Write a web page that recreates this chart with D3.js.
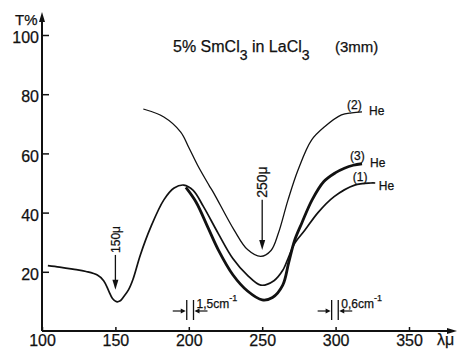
<!DOCTYPE html>
<html>
<head>
<meta charset="utf-8">
<script src="https://cdn.jsdelivr.net/npm/d3@7"></script>
<style>
  body { margin: 0; background: #fff; }
  svg text { font-family: 'Liberation Sans', Arial, sans-serif; fill: #111; stroke: #111; stroke-width: 0.25; }
</style>
</head>
<body>
<div id="chart"></div>
<script>
// wavelength (micron) ticks and transmission ticks
const lambdaTicks = [100, 150, 200, 250, 300, 350];
const tTicks = [20, 40, 60, 80, 100];

// [lambda, T%]
const curve1 = [[104, 22.1], [112, 21.6], [121, 20.9], [130, 20.1], [137.7, 18.9], [142, 17], [145.5, 13.5],
  [148, 11], [150.7, 9.9], [153, 10.1], [155.5, 11.5], [159, 14], [162, 17.5], [167, 25.7], [174, 35],
  [183, 44.3], [190, 48.3], [196.6, 49.3], [203, 47.5], [210, 42], [220, 33], [230, 24.5], [240, 18.8],
  [249, 15.5], [258, 17], [264, 20.5], [268, 25], [272, 29.5], [279, 34], [288, 40], [299, 45.4],
  [313, 49.3], [324, 50], [327, 50]];
const curve2 = [[169, 75], [183, 72.3], [194.5, 67.2], [200, 62], [206, 56], [213.7, 49.3], [217, 46.6],
  [231, 34], [240, 27.5], [249, 25.2], [256, 27.2], [261, 33], [267.6, 44.3], [274.4, 54.4], [283.6, 64.5],
  [292.5, 69], [304, 73], [311, 73.7], [318, 74]];
const curve3 = [[198, 48.5], [205, 43.5], [213, 35], [220, 27.5], [230, 19], [240, 13.5], [250, 10.5],
  [257, 11.3], [264, 15.5], [268, 23], [272, 30.5], [277, 36.5], [284, 44.3], [292, 50.5], [300, 53.5],
  [306, 55], [312, 56], [318, 56.5]];

const curveNames = ['(1)', '(2)', '(3)'];
const gasLabel = 'He';
const peakLabels = ['150μ', '250μ'];
const slitLabels = ['1,5', '0,6'];

const width = 458, height = 349;
const svg = d3.select('#chart').append('svg').attr('width', width).attr('height', height);

const x = d3.scaleLinear().domain([100, 350]).range([42, 409]);
const y = d3.scaleLinear().domain([0, 100]).range([331, 35]);
const ink = '#111';
const font = "'Liberation Sans', Arial, sans-serif";

// axes
const xAxis = svg.append('g')
  .attr('transform', 'translate(0,' + y(0) + ')')
  .call(d3.axisBottom(x).tickValues(lambdaTicks).tickSizeInner(-4).tickSizeOuter(0).tickPadding(4));
xAxis.select('.domain').remove();
xAxis.selectAll('line').attr('stroke', ink).attr('stroke-width', 1.5);
xAxis.selectAll('text').attr('font-size', 16).attr('font-family', font).attr('fill', ink);

const yAxis = svg.append('g')
  .attr('transform', 'translate(' + x(100) + ',0)')
  .call(d3.axisLeft(y).tickValues(tTicks).tickSizeInner(-7).tickSizeOuter(0).tickPadding(3));
yAxis.select('.domain').remove();
yAxis.selectAll('line').attr('stroke', ink).attr('stroke-width', 1.5);
yAxis.selectAll('text').attr('font-size', 16).attr('dy', '0.48em').attr('font-family', font).attr('fill', ink);

// axis lines with arrow heads
svg.append('line').attr('x1', x(100)).attr('x2', x(100)).attr('y1', y(0)).attr('y2', 16)
  .attr('stroke', ink).attr('stroke-width', 2);
svg.append('path').attr('d', `M${x(100)},12 L${x(100) - 3},22 L${x(100) + 3},22 Z`).attr('fill', ink);
svg.append('line').attr('x1', x(100)).attr('x2', 452).attr('y1', y(0)).attr('y2', y(0))
  .attr('stroke', ink).attr('stroke-width', 2);
svg.append('path').attr('d', `M457,${y(0)} L447,${y(0) - 3} L447,${y(0) + 3} Z`).attr('fill', ink);

svg.append('text').attr('x', 15).attr('y', 25).attr('font-size', 15).text('T%');
svg.append('text').attr('x', 437).attr('y', 345).attr('font-size', 16).text('λμ');

// title
const title = svg.append('text').attr('x', 173).attr('y', 52).attr('font-size', 16);
title.append('tspan').text('5% SmCl');
title.append('tspan').attr('dy', 8).attr('font-size', 14).text('3');
title.append('tspan').attr('dy', -8).text(' in LaCl');
title.append('tspan').attr('dy', 8).attr('font-size', 14).text('3');
svg.append('text').attr('x', 335).attr('y', 52).attr('font-size', 15).text('(3mm)');

// curves
const line = d3.line().x(d => x(d[0])).y(d => y(d[1])).curve(d3.curveCatmullRom.alpha(0.5));
svg.append('path').datum(curve2).attr('d', line).attr('fill', 'none').attr('stroke', ink).attr('stroke-width', 1.3);
svg.append('path').datum(curve1).attr('d', line).attr('fill', 'none').attr('stroke', ink).attr('stroke-width', 1.7);
svg.append('path').datum(curve3).attr('d', line).attr('fill', 'none').attr('stroke', ink).attr('stroke-width', 2.8);

// curve labels
const ends = [curve1[curve1.length - 2], curve2[curve2.length - 1], curve3[curve3.length - 1]];
const nameOffsets = [[-18, -2], [-15, -3], [-12, -4]];
const heOffsets = [[8, 7], [7, 3], [8, 3]];
curveNames.forEach((name, i) => {
  const [lx, ly] = [x(ends[i][0]), y(ends[i][1])];
  svg.append('text').attr('x', lx + nameOffsets[i][0]).attr('y', ly + nameOffsets[i][1])
    .attr('font-size', 12).text(name);
  svg.append('text').attr('x', lx + heOffsets[i][0]).attr('y', ly + heOffsets[i][1])
    .attr('font-size', 12).text(gasLabel);
});

// peak arrows
const arrowSpecs = [{ lam: 150, top: 25.7, tip: 13.9, size: 12, label: peakLabels[0] },
  { lam: 250, top: 44.3, tip: 27.4, size: 14, label: peakLabels[1] }];
arrowSpecs.forEach(a => {
  const ax = x(a.lam);
  svg.append('line').attr('x1', ax).attr('x2', ax).attr('y1', y(a.top)).attr('y2', y(a.tip) - 6)
    .attr('stroke', ink).attr('stroke-width', 1.3);
  svg.append('path').attr('d', `M${ax},${y(a.tip)} L${ax - 3},${y(a.tip) - 10} L${ax + 3},${y(a.tip) - 10} Z`)
    .attr('fill', ink);
  svg.append('text')
    .attr('transform', `translate(${ax + a.size * 0.36},${y(a.top) - 2}) rotate(-90)`)
    .attr('font-size', a.size).text(a.label);
});

// slit width markers
const slitSpecs = [{ from: 198.6, to: 203.2, label: slitLabels[0] }, { from: 297.3, to: 301.8, label: slitLabels[1] }];
const base = y(0);
slitSpecs.forEach(s => {
  const x1 = x(s.from), x2 = x(s.to);
  [x1, x2].forEach(bx => svg.append('line').attr('x1', bx).attr('x2', bx)
    .attr('y1', base - 31).attr('y2', base - 11).attr('stroke', ink).attr('stroke-width', 1.3));
  const ay = base - 20;
  svg.append('line').attr('x1', x1 - 14).attr('x2', x1 - 3).attr('y1', ay).attr('y2', ay).attr('stroke', ink).attr('stroke-width', 1.2);
  svg.append('path').attr('d', `M${x1 - 1},${ay} L${x1 - 6},${ay - 2.5} L${x1 - 6},${ay + 2.5} Z`).attr('fill', ink);
  svg.append('line').attr('x1', x2 + 14).attr('x2', x2 + 3).attr('y1', ay).attr('y2', ay).attr('stroke', ink).attr('stroke-width', 1.2);
  svg.append('path').attr('d', `M${x2 + 1},${ay} L${x2 + 6},${ay - 2.5} L${x2 + 6},${ay + 2.5} Z`).attr('fill', ink);
  const t = svg.append('text').attr('x', x2 + 3).attr('y', base - 23).attr('font-size', 12);
  t.append('tspan').text(s.label + 'cm');
  t.append('tspan').attr('dy', -7).attr('font-size', 9).text('-1');
});
</script>
</body>
</html>
